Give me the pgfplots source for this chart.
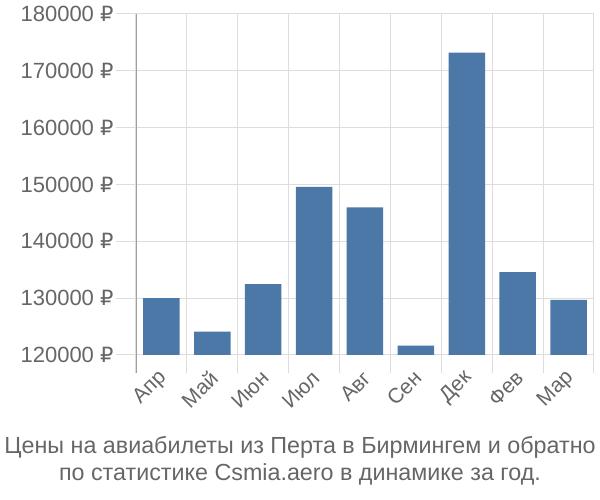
\documentclass[border=0pt]{standalone}
\usepackage{pgfplots}
\pgfplotsset{compat=1.18}
\usepackage{fontspec}
\setmainfont{Liberation Sans}
\newfontfamily\djv{DejaVu Sans}
\definecolor{barc}{HTML}{4C78A8}
\definecolor{txt}{HTML}{666666}
\definecolor{grd}{HTML}{DDDDDD}
\definecolor{axl}{HTML}{A0A0A0}
\begin{document}
\begin{tikzpicture}[x=1pt,y=1pt]
\path[use as bounding box] (0,0) rectangle (600,500);
\begin{axis}[
  at={(136pt,145pt)}, anchor=south west,
  scale only axis, width=458pt, height=341pt,
  xmin=-0.5, xmax=8.5, ymin=120000, ymax=180000,
  ybar, bar width=36.5pt,
  axis x line*=bottom, axis y line*=left,
  axis line style={draw=none},
  xtick={0,...,8},
  xticklabels={Апр,Май,Июн,Июл,Авг,Сен,Дек,Фев,Мар},
  minor xtick={-0.5,0.5,...,8.5},
  major x tick style={draw=none},
  minor x tick style={draw=grd, line width=1pt},
  minor tick length=18pt,
  xminorgrids=true, minor x grid style={draw=grd, line width=1pt},
  ytick={120000,130000,...,180000},
  ymajorgrids=true, major y grid style={draw=grd, line width=1pt},
  y tick style={draw=grd, line width=1pt},
  major tick length=20pt,
  tick align=outside,
  scaled y ticks=false,
  yticklabel={\pgfmathprintnumber[fixed,precision=0,1000 sep={}]{\tick}~{\djv\fontsize{21}{23}\selectfont ₽}},
  /pgf/number format/assume math mode=true,
  yticklabel style={font=\fontsize{22}{24}\selectfont, text=txt, anchor=east, xshift=1pt},
  xticklabel style={font=\fontsize{21}{23}\selectfont, text=txt, rotate=45, anchor=east, xshift=5pt, yshift=-1pt},
  clip=true,
]
\addplot[fill=barc, draw=none] coordinates {
(0,130000) (1,124100) (2,132450) (3,149560) (4,145990) (5,121640) (6,173190) (7,134600) (8,129680)};
\end{axis}
\draw[axl, line width=1pt] (136,127) -- (136,486);
\node[text=txt, align=center, font=\fontsize{23.3}{27}\selectfont] at (300,39.5) {Цены на авиабилеты из Перта в Бирмингем и обратно\\по статистике Csmia.aero в динамике за год.};
\end{tikzpicture}
\end{document}
